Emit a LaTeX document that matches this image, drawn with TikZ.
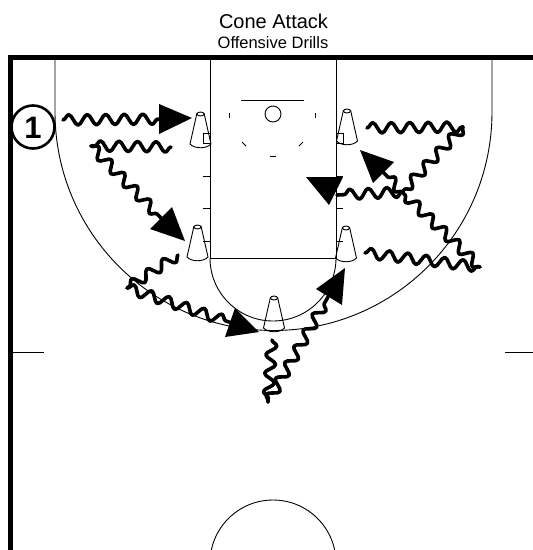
\documentclass[tikz,border=0pt]{standalone}
\usepackage{fontspec}
\setmainfont{Liberation Sans}
\usetikzlibrary{decorations.pathmorphing}
\tikzset{
  court/.style={line width=0.9pt,black},
  wall/.style={line width=5pt,black},
  squig/.style={line width=3.6pt,line join=round,line cap=round,decorate,decoration={snake,segment length=18.5pt,amplitude=5.2pt}},
  head/.style={fill=black,draw=none},
  cone/.pic={\draw[line width=0.9pt] (-3.5,-16) -- (-10.5,15) .. controls (-6,20) and (6,20) .. (10.5,15) -- (3.5,-16);
    \draw[line width=0.9pt] (0,-15) ellipse (3.5 and 2);}
}
\begin{document}
\begin{tikzpicture}[x=1pt,y=-1pt]
\useasboundingbox (0,0) rectangle (533,550);
\node (t1) at (273.5,21) {\fontsize{20}{22}\selectfont Cone Attack};
\node (t2) at (273,43) {\fontsize{16.5}{18}\selectfont Offensive Drills};
% walls
\draw[wall] (533,57.5) -- (10,57.5) -- (10,550);
% lane
\draw[court] (210,57) -- (210,258) -- (336,258) -- (336,57);
\draw[court] (210,258) arc[start angle=180,end angle=0,radius=63];
% three-point line
\draw[court] (55,57) -- (55,112) arc[start angle=180,end angle=0,radius=218.5] -- (492,57);
% half court and centre circle
\draw[court] (10,352) -- (44,352);
\draw[court] (505,352) -- (533,352);
\begin{scope}
\clip (0,0) rectangle (533,550);
\draw[court] (273,563) circle (63);
\end{scope}
% basket
\draw[court] (241,100) -- (304,100);
\draw[court] (273,114) circle (8);
\draw[court] (229.5,113) -- (229.5,118);
\draw[court] (315,113) -- (315,118);
\draw[court] (242,142) -- (246,146);
\draw[court] (303,142) -- (299,146);
\draw[court] (270,156) -- (276,156);
% lane marks
\foreach \yy in {176,208,241}{
  \draw[court] (203,\yy) -- (210,\yy);
  \draw[court] (336,\yy) -- (343,\yy);
}
\draw[court] (203,133) rectangle (210,143);
\draw[court] (336,133) rectangle (343,143);
% cones
\pic at (200.5,129) {cone};
\pic at (347,126) {cone};
\pic at (197.5,242) {cone};
\pic at (346,243) {cone};
\pic at (274,313) {cone};
% player
\node (p1) [circle,draw,line width=2.6pt,minimum size=43pt,inner sep=0pt] at (33,127) {};
\node at (33,127.5) {\fontsize{31}{32}\selectfont\bfseries 1};
% route coordinates
\coordinate (a1) at (63,120); \coordinate (a2) at (165,119);
\coordinate (b1) at (171,147); \coordinate (b2) at (91,146); \coordinate (b3) at (162,219);
\coordinate (c1) at (178,255); \coordinate (c2) at (127,288); \coordinate (c3) at (232,323);
\coordinate (d1) at (272,340); \coordinate (d2) at (268,402); \coordinate (d3) at (328,297);
\coordinate (e1) at (367,128); \coordinate (e2) at (463,127); \coordinate (e3) at (402,192); \coordinate (e4) at (383,172);
\coordinate (f1) at (365,253); \coordinate (f2) at (480,267); \coordinate (f3) at (402,192); \coordinate (f4) at (337,195);
% routes
\draw[squig] (a1) -- (a2);
\draw[squig] (b1) -- (b2);
\draw[squig] (b2) -- (b3);
\draw[squig] (c1) -- (c2);
\draw[squig] (c2) -- (c3);
\draw[squig] (d1) -- (d2);
\draw[squig] (d2) -- (d3);
\draw[squig] (e1) -- (e2);
\draw[squig] (e2) -- (e3);
\draw[squig] (e3) -- (e4);
\draw[squig] (f1) -- (f2);
\draw[squig] (f2) -- (f3);
\draw[squig] (f3) -- (f4);
% arrowheads
\fill[head] (192,118) -- (159,104) -- (159,134) -- cycle;
\fill[head] (185,241) -- (150,229) -- (172,207) -- cycle;
\fill[head] (259,332) -- (225,337) -- (235,308) -- cycle;
\fill[head] (345,268) -- (316,289) -- (342,305) -- cycle;
\fill[head] (360,150) -- (394,162) -- (373,183) -- cycle;
\fill[head] (329,205) -- (306,177) -- (343,177) -- cycle;
\end{tikzpicture}
\end{document}
